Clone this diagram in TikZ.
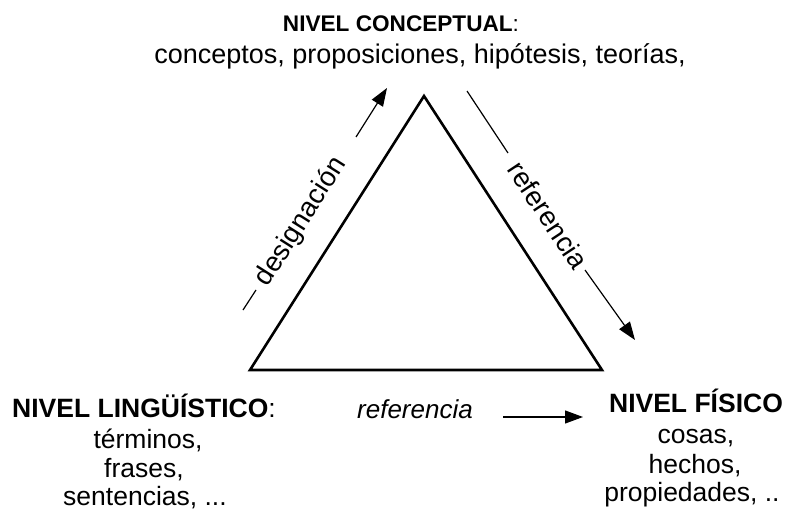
\documentclass[tikz,border=0pt]{standalone}
\usepackage{fontspec}
\setmainfont{Liberation Sans}
\usetikzlibrary{arrows.meta}
\begin{document}
\begin{tikzpicture}[x=1pt,y=-1pt,
  txt/.style={inner sep=0pt,anchor=base},
  topb/.style={txt,font=\fontsize{22.6}{26}\selectfont\bfseries},
  topr/.style={txt,font=\fontsize{27}{30}\selectfont},
  botb/.style={txt,font=\fontsize{26.5}{30}\selectfont\bfseries},
  botr/.style={txt,font=\fontsize{26.5}{30}\selectfont},
  rot/.style={inner sep=0pt,anchor=center,font=\fontsize{27.5}{30}\selectfont},
  arr/.style={line width=1.2pt,-{Triangle[length=18pt,width=13pt]}},
  seg/.style={line width=1.2pt}]
\useasboundingbox (0,0) rectangle (788,511);
% triangle
\coordinate (A) at (424,96);
\coordinate (B) at (250,370);
\coordinate (C) at (602,370);
\draw[line width=2.6pt,line join=miter] (A) -- (B) -- (C) -- cycle;
% top
\node[topb] (nc) at (401,32) {NIVEL CONCEPTUAL\textmd{:}};
\node[topr] (ncl) at (420,64) {conceptos, proposiciones, hipótesis, teorías,};
% designación
\coordinate (d1) at (243,310);
\coordinate (d2) at (256,290);
\coordinate (d3) at (356,137);
\coordinate (d4) at (387,88);
\draw[seg] (d1) -- (d2);
\draw[arr] (d3) -- (d4);
\node[rot,rotate=57.6] (des) at (301,222) {designación};
% referencia (right)
\coordinate (r1) at (467,91);
\coordinate (r2) at (508,153);
\coordinate (r3) at (585,270);
\coordinate (r4) at (635,340);
\draw[seg] (r1) -- (r2);
\draw[arr] (r3) -- (r4);
\node[rot,rotate=-56.5] (ref) at (548,215) {referencia};
% bottom left
\node[botb,anchor=base west] (nl) at (12,417) {NIVEL LINGÜÍSTICO\textmd{:}};
\node[botr] (l1) at (148,448) {términos,};
\node[botr] (l2) at (144,477) {frases,};
\node[botr] (l3) at (145,505) {sentencias, ...};
% bottom middle
\node[txt,font=\fontsize{26}{30}\selectfont\itshape] (rb) at (415,418) {referencia};
\coordinate (b1) at (503,417);
\coordinate (b2) at (583,417);
\draw[arr] (b1) -- (b2);
% bottom right
\node[botb] (nf) at (696,412) {NIVEL FÍSICO};
\node[botr] (f1) at (696,443) {cosas,};
\node[botr] (f2) at (695,473) {hechos,};
\node[botr] (f3) at (692,501) {propiedades, ..};
\end{tikzpicture}
\end{document}
